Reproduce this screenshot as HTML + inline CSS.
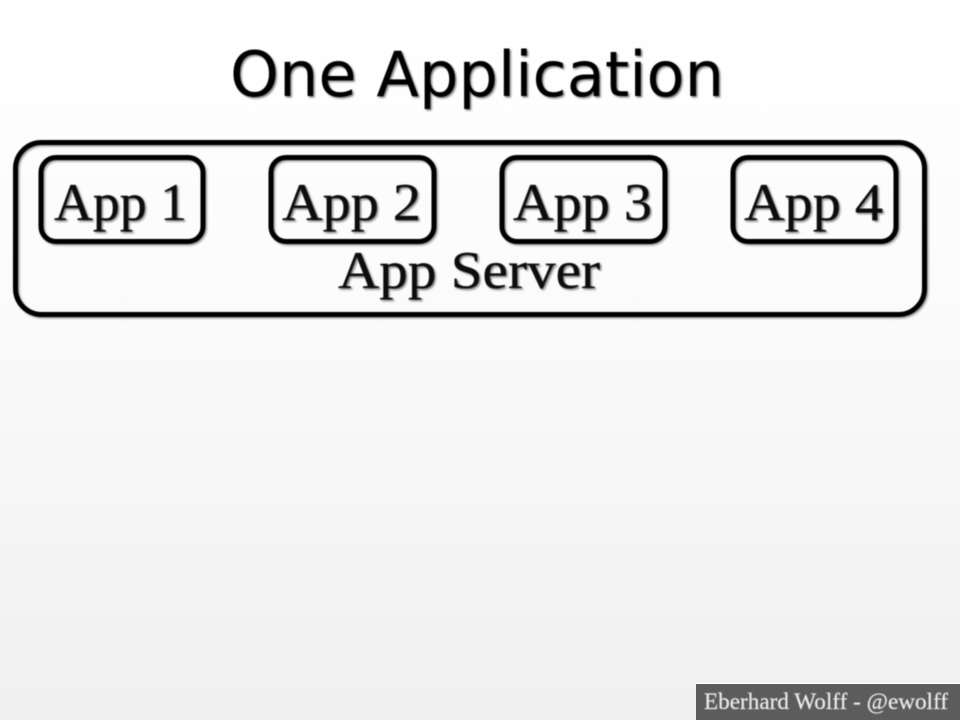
<!DOCTYPE html>
<html>
<head>
<meta charset="utf-8">
<style>
html,body{margin:0;padding:0;width:960px;height:720px;overflow:hidden}
svg{display:block}
.t{font-family:"DejaVu Sans",sans-serif;fill:#050505}
.s{font-family:"Liberation Serif",serif;fill:#101010;stroke:#101010;stroke-width:0.3}
</style>
</head>
<body>
<svg width="960" height="720" viewBox="0 0 960 720" xmlns="http://www.w3.org/2000/svg">
<defs>
<linearGradient id="bg" x1="0" y1="0" x2="0" y2="1">
<stop offset="0" stop-color="#ffffff"/>
<stop offset="0.4" stop-color="#fbfbfb"/>
<stop offset="1" stop-color="#f0f0f0"/>
</linearGradient>
<filter id="b" x="-5%" y="-5%" width="110%" height="110%"><feGaussianBlur stdDeviation="1"/></filter>
<filter id="a" x="-5%" y="-5%" width="110%" height="110%"><feGaussianBlur stdDeviation="0.4"/></filter>
</defs>
<rect width="960" height="720" fill="url(#bg)"/>

<g filter="url(#b)" opacity="0.5" transform="translate(1.5,1.5)">
<text class="t" x="477" y="96" font-size="62" text-anchor="middle" textLength="494" lengthAdjust="spacingAndGlyphs">One Application</text>
<g fill="none" stroke="#333" stroke-width="5">
<rect x="15.500" y="142.500" width="909" height="172" rx="26"/>
<rect x="41" y="157.500" width="162" height="84" rx="15"/>
<rect x="271" y="157.500" width="163" height="84" rx="15"/>
<rect x="502" y="157.500" width="163" height="84" rx="15"/>
<rect x="733" y="157.500" width="163" height="84" rx="15"/>
</g>
<g font-size="53">
<text class="s" x="54" y="220" textLength="133" lengthAdjust="spacingAndGlyphs">App 1</text>
<text class="s" x="282" y="220" textLength="139" lengthAdjust="spacingAndGlyphs">App 2</text>
<text class="s" x="513" y="220" textLength="139" lengthAdjust="spacingAndGlyphs">App 3</text>
<text class="s" x="744" y="220" textLength="139" lengthAdjust="spacingAndGlyphs">App 4</text>
<text class="s" x="338" y="288" textLength="262" lengthAdjust="spacingAndGlyphs">App Server</text>
</g>
</g>

<g filter="url(#a)">
<text class="t" x="477" y="96" font-size="62" text-anchor="middle" textLength="494" lengthAdjust="spacingAndGlyphs">One Application</text>
<g fill="none" stroke="#050505" stroke-width="5">
<rect x="15.500" y="142.500" width="909" height="172" rx="26"/>
<rect x="41" y="157.500" width="162" height="84" rx="15"/>
<rect x="271" y="157.500" width="163" height="84" rx="15"/>
<rect x="502" y="157.500" width="163" height="84" rx="15"/>
<rect x="733" y="157.500" width="163" height="84" rx="15"/>
</g>
<g font-size="53">
<text class="s" x="54" y="220" textLength="133" lengthAdjust="spacingAndGlyphs">App 1</text>
<text class="s" x="282" y="220" textLength="139" lengthAdjust="spacingAndGlyphs">App 2</text>
<text class="s" x="513" y="220" textLength="139" lengthAdjust="spacingAndGlyphs">App 3</text>
<text class="s" x="744" y="220" textLength="139" lengthAdjust="spacingAndGlyphs">App 4</text>
<text class="s" x="338" y="288" textLength="262" lengthAdjust="spacingAndGlyphs">App Server</text>
</g>
</g>

<rect x="696" y="684" width="264" height="36" fill="#5c5c5c"/>
<rect x="696" y="683" width="264" height="1" fill="#ffffff"/>
<text x="704" y="709" font-family="'Liberation Serif',serif" font-size="23" fill="#ececec" stroke="#ececec" stroke-width="0.2" textLength="244" lengthAdjust="spacingAndGlyphs" filter="url(#a)">Eberhard Wolff - @ewolff</text>
</svg>
</body>
</html>
